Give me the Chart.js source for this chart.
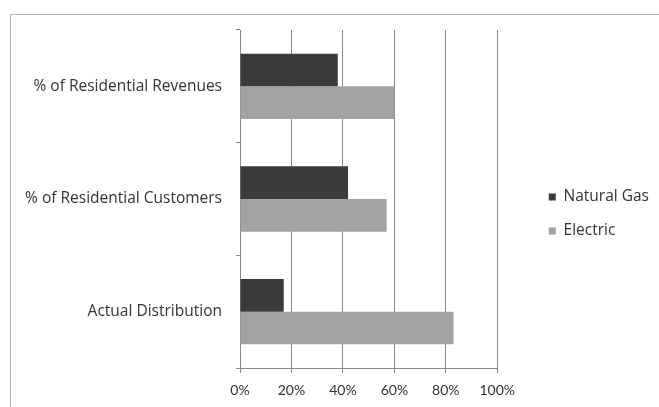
<!DOCTYPE html>
<html><head><meta charset="utf-8">
<script src="https://cdn.jsdelivr.net/npm/chart.js@4"></script>
<style>
html,body{margin:0;padding:0;background:#fff;}
#wrap{position:relative;width:659px;height:407px;overflow:hidden;}
#frame{position:absolute;left:10px;top:14px;width:700px;height:450px;border:1px solid #b5b5b5;}
canvas{position:absolute;left:0;top:0;}
</style></head>
<body>
<div id="wrap"><div id="frame"></div><canvas id="c" width="659" height="407"></canvas></div>
<script>
const categories = ["% of Residential Revenues", "% of Residential Customers", "Actual Distribution"];
const naturalGas = [38, 42, 17];
const electric = [60, 57, 83];
const tickValues = [0, 20, 40, 60, 80, 100];

const labelFont = {family: "'Open Sans', sans-serif", size: 15.5};
const tickFont = {family: "Lato, sans-serif", size: 14};
new Chart(document.getElementById('c'), {
  type: 'bar',
  data: {
    labels: categories,
    datasets: [
      {label: 'Natural Gas', data: naturalGas, backgroundColor: '#3b3b3b', barPercentage: 1, categoryPercentage: 0.58},
      {label: 'Electric', data: electric, backgroundColor: '#a3a3a3', barPercentage: 1, categoryPercentage: 0.58}
    ]
  },
  options: {
    indexAxis: 'y',
    responsive: false,
    animation: false,
    layout: {padding: {top: 30, bottom: 9, left: 10, right: 0}},
    plugins: {
      tooltip: {enabled: false},
      legend: {
        position: 'right',
        maxWidth: 250,
        labels: {boxWidth: 7, boxHeight: 7, padding: 18.5, color: '#333', font: labelFont}
      }
    },
    scales: {
      x: {
        min: 0, max: 100,
        afterBuildTicks: s => { s.ticks = tickValues.map(v => ({value: v})); },
        afterFit: s => { s.height = 30; },
        ticks: {callback: v => v + '%', color: '#333', font: tickFont, padding: 9},
        grid: {color: '#8a8a8a', lineWidth: 1, tickLength: 5},
        border: {color: '#8a8a8a'}
      },
      y: {
        afterFit: s => { s.width = 230; },
        ticks: {color: '#333', font: labelFont, padding: 14},
        grid: {drawOnChartArea: false, tickLength: 4, color: '#8a8a8a', offset: true},
        border: {color: '#8a8a8a'}
      },
      gap: {
        type: 'category', axis: 'y', position: 'right',
        afterFit: s => { s.width = 33; },
        ticks: {display: false},
        grid: {display: false},
        border: {display: false}
      }
    }
  }
});
</script>
</body></html>
